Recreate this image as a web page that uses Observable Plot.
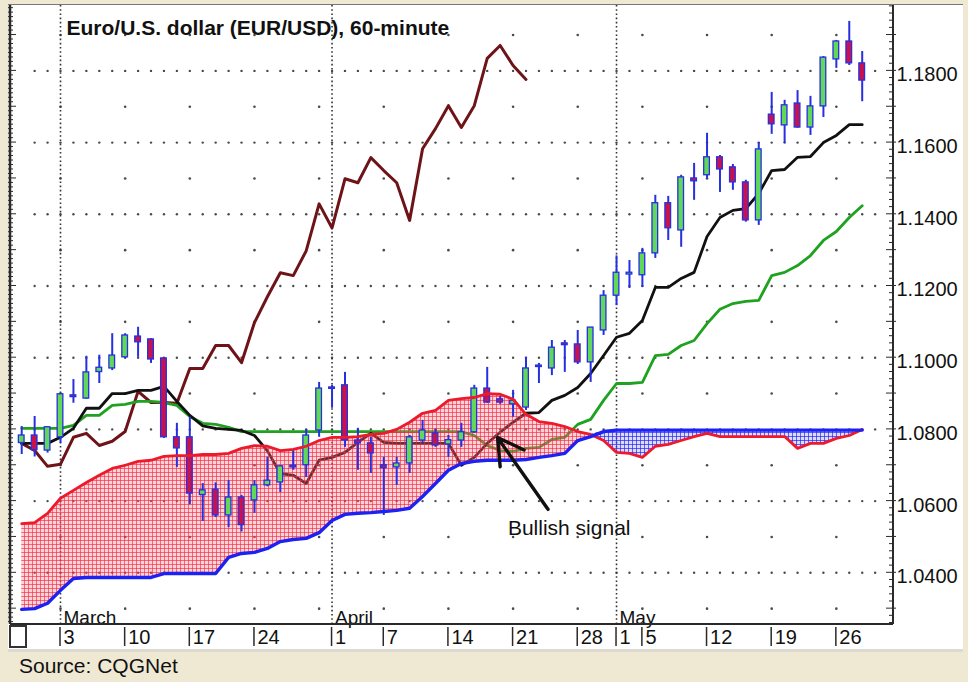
<!DOCTYPE html>
<html><head><meta charset="utf-8">
<script src="https://cdn.jsdelivr.net/npm/d3@7"></script>
<script src="https://cdn.jsdelivr.net/npm/@observablehq/plot@0.6"></script>
<style>
body{margin:0;background:#efe9d4;width:968px;height:682px;overflow:hidden;position:relative;font-family:"Liberation Sans",Arial,sans-serif}
#panel{position:absolute;left:8px;top:4px;width:955px;height:644px;background:#fff;border-top:1px solid #777;border-bottom:3px solid #dcdad0}
#chart{position:absolute;left:0;top:0}
#box{position:absolute;left:9px;top:625px;width:14px;height:19px;border:2px solid #333;background:#fff}
#caption{position:absolute;left:19px;top:654px;font-size:21px;color:#111}
</style></head><body>
<div id="panel"></div><div id="chart"></div><div id="box"></div><div id="caption">Source: CQGNet</div>
<script>
// trading days (2003), Feb 26 .. May 28
const dates = ["02-26","02-27","02-28",
 "03-03","03-04","03-05","03-06","03-07","03-10","03-11","03-12","03-13","03-14",
 "03-17","03-18","03-19","03-20","03-21","03-24","03-25","03-26","03-27","03-28","03-31",
 "04-01","04-02","04-03","04-04","04-07","04-08","04-09","04-10","04-11",
 "04-14","04-15","04-16","04-17","04-18","04-21","04-22","04-23","04-24","04-25",
 "04-28","04-29","04-30","05-01","05-02","05-05","05-06","05-07","05-08","05-09",
 "05-12","05-13","05-14","05-15","05-16","05-19","05-20","05-21","05-22","05-23",
 "05-26","05-27","05-28"];
const open = [1.0762,1.0783,1.0741,1.0778,1.0895,1.0886,1.0960,1.0970,1.1001,1.1059,
 1.1051,1.0998,1.0778,1.0778,1.0617,1.0632,1.0560,1.0610,1.0602,1.0644,
 1.0652,1.0699,1.0700,1.0797,1.0917,1.0923,1.0769,1.0761,1.0700,1.0694,
 1.0705,1.0769,1.0789,1.0758,1.0769,1.0792,1.0914,1.0884,1.0870,1.0861,
 1.0978,1.0970,1.1040,1.1037,1.0987,1.1076,1.1173,1.1232,1.1230,1.1291,
 1.1431,1.1355,1.1500,1.1509,1.1559,1.1531,1.1489,1.1383,1.1678,1.1648,
 1.1709,1.1642,1.1701,1.1832,1.1882,1.1821];
const close = [1.0783,1.0742,1.0806,1.0898,1.0890,1.0959,1.0972,1.1006,1.1062,1.1043,
 1.0995,1.0778,1.0747,1.0621,1.0630,1.0560,1.0610,1.0533,1.0644,1.0657,
 1.0697,1.0694,1.0783,1.0914,1.0914,1.0769,1.0761,1.0733,1.0692,1.0705,
 1.0778,1.0797,1.0755,1.0770,1.0792,1.0914,1.0875,1.0875,1.0880,1.0970,
 1.0975,1.1028,1.1035,1.0987,1.1084,1.1173,1.1237,1.1237,1.1291,1.1431,
 1.1361,1.1503,1.1492,1.1559,1.1525,1.1489,1.1383,1.1581,1.1651,1.1704,
 1.1642,1.1701,1.1837,1.1882,1.1821,1.1773];
const high = [1.0808,1.0836,1.0808,1.0898,1.0939,1.1004,1.1007,1.1067,1.1067,1.1085,
 1.1053,1.1000,1.0817,1.0834,1.0649,1.0651,1.0657,1.0616,1.0657,1.0722,
 1.0699,1.0741,1.0800,1.0931,1.0923,1.0959,1.0803,1.0778,1.0722,1.0722,
 1.0783,1.0825,1.0800,1.0783,1.0817,1.0923,1.0973,1.0892,1.0909,1.1001,
 1.0984,1.1048,1.1048,1.1076,1.1084,1.1187,1.1284,1.1271,1.1305,1.1453,
 1.1450,1.1509,1.1542,1.1626,1.1564,1.1539,1.1495,1.1600,1.1740,1.1718,
 1.1745,1.1729,1.1840,1.1885,1.1938,1.1854];
const low = [1.0730,1.0723,1.0734,1.0761,1.0873,1.0884,1.0928,1.0964,1.0998,1.1001,
 1.0984,1.0775,1.0694,1.0590,1.0543,1.0554,1.0526,1.0514,1.0566,1.0640,
 1.0624,1.0686,1.0666,1.0778,1.0859,1.0750,1.0686,1.0677,1.0560,1.0644,
 1.0677,1.0761,1.0750,1.0722,1.0750,1.0789,1.0873,1.0870,1.0834,1.0853,
 1.0928,1.0950,1.0959,1.0981,1.0931,1.1062,1.1145,1.1193,1.1196,1.1277,
 1.1327,1.1308,1.1439,1.1500,1.1461,1.1467,1.1378,1.1369,1.1623,1.1598,
 1.1640,1.1620,1.1670,1.1807,1.1815,1.1714];
// Ichimoku lines
const tenkan = [1.0761,1.0761,1.0761,1.0778,1.0803,1.0859,1.0859,1.0900,1.0900,1.0909,
 1.0909,1.0920,1.0878,1.0839,1.0810,1.0803,1.0800,1.0797,1.0783,1.0740,
 1.0677,1.0672,1.0649,1.0714,1.0722,1.0736,1.0764,1.0789,1.0764,1.0761,
 1.0761,1.0761,1.0761,1.0761,1.0700,1.0722,1.0761,1.0792,1.0820,1.0845,
 1.0847,1.0881,1.0895,1.0917,1.0956,1.1006,1.1057,1.1068,1.1104,1.1196,
 1.1196,1.1221,1.1238,1.1338,1.1391,1.1411,1.1416,1.1458,1.1522,1.1525,
 1.1559,1.1561,1.1600,1.1620,1.1650,1.1650];
const kijun = [1.0803,1.0803,1.0803,1.0803,1.0811,1.0839,1.0839,1.0867,1.0870,1.0878,
 1.0878,1.0875,1.0867,1.0836,1.0817,1.0814,1.0806,1.0794,1.0794,1.0794,
 1.0794,1.0794,1.0794,1.0794,1.0794,1.0794,1.0794,1.0794,1.0794,1.0794,
 1.0794,1.0794,1.0794,1.0794,1.0794,1.0783,1.0755,1.0741,1.0739,1.0747,
 1.0750,1.0772,1.0778,1.0814,1.0828,1.0881,1.0928,1.0928,1.0931,1.1006,
 1.1009,1.1034,1.1048,1.1095,1.1135,1.1151,1.1157,1.1160,1.1229,1.1238,
 1.1257,1.1285,1.1327,1.1352,1.1391,1.1424];
const chikou = [1.0761,1.0741,1.0697,1.0703,1.0778,1.0789,1.0755,1.0767,1.0794,1.0906,
 1.0875,1.0875,1.0873,1.0970,1.0970,1.1034,1.1034,1.0986,1.1098,1.1170,
 1.1237,1.1229,1.1298,1.1429,1.1362,1.1499,1.1488,1.1558,1.1522,1.1488,
 1.1383,1.1583,1.1639,1.1703,1.1642,1.1703,1.1835,1.1871,1.1815,1.1776];
const senkouA = [1.0537,1.0540,1.0566,1.0608,1.0630,1.0652,1.0672,1.0691,1.0700,1.0711,
 1.0714,1.0725,1.0727,1.0727,1.0730,1.0730,1.0733,1.0747,1.0755,1.0753,
 1.0741,1.0744,1.0753,1.0769,1.0778,1.0778,1.0780,1.0786,1.0789,1.0800,
 1.0820,1.0845,1.0853,1.0881,1.0886,1.0889,1.0900,1.0898,1.0884,1.0842,
 1.0822,1.0817,1.0808,1.0794,1.0786,1.0769,1.0736,1.0733,1.0722,1.0753,
 1.0758,1.0769,1.0780,1.0789,1.0780,1.0780,1.0780,1.0780,1.0780,1.0780,
 1.0747,1.0761,1.0761,1.0775,1.0783,1.0800];
const senkouB = [1.0298,1.0300,1.0315,1.0351,1.0384,1.0387,1.0387,1.0387,1.0387,1.0387,
 1.0387,1.0398,1.0398,1.0398,1.0398,1.0398,1.0443,1.0454,1.0457,1.0468,
 1.0487,1.0493,1.0496,1.0512,1.0546,1.0563,1.0566,1.0568,1.0571,1.0574,
 1.0580,1.0613,1.0649,1.0686,1.0705,1.0711,1.0714,1.0714,1.0714,1.0716,
 1.0722,1.0727,1.0733,1.0769,1.0780,1.0794,1.0798,1.0798,1.0798,1.0798,
 1.0798,1.0798,1.0798,1.0798,1.0798,1.0798,1.0798,1.0798,1.0798,1.0798,
 1.0798,1.0798,1.0798,1.0798,1.0798,1.0798];
// axis text
const priceLabels = [1.04,1.06,1.08,1.10,1.12,1.14,1.16,1.18];
const halfLevels = [1.03,1.05,1.07,1.09,1.11,1.13,1.15,1.17,1.19];
const xTickDates = ["03-03","03-10","03-17","03-24","04-01","04-07","04-14","04-21","04-28","05-01","05-05","05-12","05-19","05-26"];
const weekDates = ["03-03","03-10","03-17","03-24","03-31","04-07","04-14","04-21","04-28","05-05","05-12","05-19","05-26"];
const monthDates = ["03-03","04-01","05-01"];
const monthNames = ["March","April","May"];
const title = "Euro/U.S. dollar (EUR/USD), 60-minute";
const signalText = ["Bullish signal"];
const signalAt = [37.6, 1.0524];        // [trading-day index, price]
const arrowFrom = [40.7, 1.0577];
const arrowTo = [36.8, 1.0777];

const kOf = d => dates.indexOf(d);
const candles = dates.map((d, k) => ({k, o: open[k], h: high[k], l: low[k], c: close[k]}));
const lineData = dates.map((d, k) => ({k, t: tenkan[k], kj: kijun[k], a: senkouA[k], b: senkouB[k]}));
const chikouData = chikou.map((v, k) => ({k, v}));
const gridDays = d3.range(1, 67);
const majorDots = priceLabels.flatMap(v => gridDays.map(k => ({k, v})));
const halfDots = halfLevels.flatMap(v => weekDates.map(d => ({k: kOf(d), v})));

const defs = () => {
  const g = d3.create("svg:g");
  const defs = g.append("defs");
  const mk = (id, cell, line) => {
    const p = defs.append("pattern").attr("id", id).attr("width", 4).attr("height", 4).attr("patternUnits", "userSpaceOnUse");
    p.append("rect").attr("width", 4).attr("height", 4).attr("fill", cell);
    p.append("path").attr("d", "M0 0.5H4M0.5 0V4").attr("stroke", line).attr("stroke-width", 1).attr("fill", "none");
  };
  mk("meshRed", "rgba(255,120,135,0.33)", "rgba(240,35,60,0.62)");
  mk("meshBlue", "rgba(110,110,255,0.25)", "rgba(40,40,235,0.7)");
  return g.node();
};

const furniture = (index, scales, values, dim) => {
  const x = scales.x, y = scales.y;
  const L = dim.marginLeft, R = dim.width - dim.marginRight, T = dim.marginTop, B = dim.height - dim.marginBottom;
  const g = d3.create("svg:g").attr("stroke", "#2a2a2a").attr("fill", "none");
  d3.range(820, 960).forEach(n => {
    const yy = y(n * 0.00125); if (yy < T || yy > B) return;
    const major = n % 8 === 0;
    g.append("line").attr("x1", L - 2).attr("x2", L + (major ? 6 : 3)).attr("y1", yy).attr("y2", yy).attr("stroke-width", 1);
  });
  d3.range(512, 600).forEach(n => {
    const yy = y(n * 0.002); if (yy < T || yy > B) return;
    const major = n % 5 === 0;
    g.append("line").attr("x1", R - (major ? 7 : 4)).attr("x2", R + (major ? 3 : 0)).attr("y1", yy).attr("y2", yy).attr("stroke-width", 1);
  });
  g.append("line").attr("x1", L).attr("x2", L).attr("y1", T).attr("y2", B).attr("stroke-width", 2.5);
  g.append("line").attr("x1", R).attr("x2", R).attr("y1", T).attr("y2", B).attr("stroke-width", 2);
  g.append("line").attr("x1", L).attr("x2", R).attr("y1", B).attr("y2", B).attr("stroke-width", 2);
  xTickDates.forEach(d => {
    const xx = x(kOf(d));
    g.append("line").attr("x1", xx).attr("x2", xx).attr("y1", B + 3).attr("y2", B + 22).attr("stroke-width", 1.5);
  });
  return g.node();
};

const up = "#62d85a", down = "#c8124e", edge = "#2630e0";

const chart = Plot.plot({
  width: 968, height: 652,
  marginLeft: 10, marginRight: 75, marginTop: 5, marginBottom: 28,
  x: {domain: [-0.867, 67.42], axis: null},
  y: {domain: [1.02558, 1.19824], axis: null},
  style: {fontFamily: "'Liberation Sans', Arial, sans-serif", background: "none", color: "#111"},
  marks: [
    defs,
    Plot.dot(majorDots, {x: "k", y: "v", r: 1.2, fill: "#4a4a4a", stroke: "none"}),
    Plot.dot(halfDots, {x: "k", y: "v", r: 1.3, fill: "#4a4a4a", stroke: "none"}),
    Plot.ruleX(monthDates, {x: d => kOf(d), stroke: "#333", strokeWidth: 1.6, strokeDasharray: "1.6 2.6"}),
    Plot.line(chikouData, {x: "k", y: "v", stroke: "#6e1419", strokeWidth: 3}),
    Plot.line(lineData, {x: "k", y: "kj", stroke: "#1fa21f", strokeWidth: 2.8}),
    Plot.line(lineData, {x: "k", y: "t", stroke: "#111", strokeWidth: 2.8}),
    Plot.areaY(lineData, {x: "k", y1: "b", y2: d => Math.max(d.a, d.b), fill: "url(#meshRed)"}),
    Plot.areaY(lineData, {x: "k", y1: "a", y2: d => Math.max(d.a, d.b), fill: "url(#meshBlue)"}),
    Plot.ruleX(candles, {x: "k", y1: "l", y2: "h", stroke: edge, strokeWidth: 2}),
    Plot.rect(candles, {filter: d => d.c >= d.o, x1: d => d.k - 0.22, x2: d => d.k + 0.22, y1: "o", y2: d => Math.max(d.c, d.o + 0.0004), fill: up, stroke: edge, strokeWidth: 1.3}),
    Plot.rect(candles, {filter: d => d.c < d.o, x1: d => d.k - 0.22, x2: d => d.k + 0.22, y1: "o", y2: d => Math.min(d.c, d.o - 0.0004), fill: down, stroke: edge, strokeWidth: 1.3}),
    Plot.line(lineData, {x: "k", y: "a", stroke: "#ee1a2c", strokeWidth: 2.8}),
    Plot.line(lineData, {x: "k", y: "b", stroke: "#1c22f2", strokeWidth: 3.4}),
    Plot.arrow([0], {x1: () => arrowFrom[0], y1: () => arrowFrom[1], x2: () => arrowTo[0], y2: () => arrowTo[1], stroke: "#111", strokeWidth: 3.4, headLength: 13}),
    Plot.text(signalText, {x: () => signalAt[0], y: () => signalAt[1], text: d => d, textAnchor: "start", fontSize: 21}),
    Plot.text([title], {frameAnchor: "top-left", text: d => d, textAnchor: "start", lineAnchor: "top", dx: 56, dy: 15, fontSize: 21, fontWeight: "bold"}),
    Plot.text(priceLabels, {y: d => d, text: d => d.toFixed(4), frameAnchor: "right", textAnchor: "start", dx: 3, dy: 4, fontSize: 20}),
    Plot.text(xTickDates, {x: d => kOf(d), text: d => String(+d.slice(3)), frameAnchor: "bottom", textAnchor: "start", lineAnchor: "middle", dx: 3, dy: 13, fontSize: 20}),
    Plot.text(monthDates, {x: d => kOf(d), text: (d, i) => monthNames[i], frameAnchor: "bottom", textAnchor: "start", lineAnchor: "bottom", dx: 3, dy: -1, fontSize: 19}),
    furniture
  ]
});
document.getElementById("chart").append(chart);
</script>
</body></html>
